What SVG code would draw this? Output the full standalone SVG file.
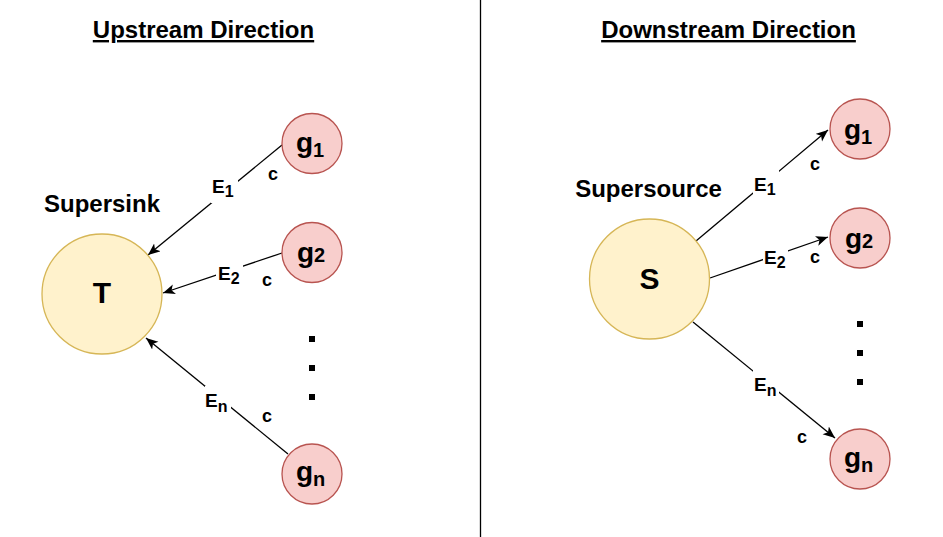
<svg xmlns="http://www.w3.org/2000/svg" width="943" height="537" viewBox="0 0 943 537">
<style>
text{font-family:"Liberation Sans",Arial,sans-serif;font-weight:bold;fill:#000}
.title{font-size:24px;text-decoration:underline}
.cap{font-size:24px}
.big{font-size:30px}
.g{font-size:28px}
.e{font-size:19px}
.c{font-size:18px}
.sub{font-size:16px}
.gsub{font-size:20px}
.y{fill:#fff2cc;stroke:#d6b656;stroke-width:1.3}
.p{fill:#f8cecc;stroke:#b85450;stroke-width:1.3}
.edge{stroke:#000;stroke-width:1.3;fill:none;marker-end:url(#arr)}
.bg{fill:#fff}
.dot{fill:#000}
</style>
<defs>
<marker id="arr" markerUnits="userSpaceOnUse" markerWidth="14" markerHeight="12" refX="12" refY="5" orient="auto">
<path d="M0,0 L12,5 L0,10 L3,5 z" fill="#000"/>
</marker>
</defs>
<rect width="943" height="537" fill="#fff"/>
<line x1="480.5" y1="0" x2="480.5" y2="537" stroke="#000" stroke-width="1.3"/>
<g id="titles">
<text class="title" x="203.5" y="38" text-anchor="middle">Upstream Direction</text>
<text class="title" x="728.5" y="38" text-anchor="middle">Downstream Direction</text>
<text class="cap" x="102" y="212" text-anchor="middle">Supersink</text>
<text class="cap" x="648.5" y="197" text-anchor="middle">Supersource</text>
</g>
<g id="connectors">
<line class="edge" x1="282" y1="145" x2="148" y2="255"/>
<line class="edge" x1="282" y1="253" x2="163" y2="293"/>
<line class="edge" x1="288" y1="454" x2="146" y2="338"/>
<line class="edge" x1="696" y1="241" x2="828" y2="130"/>
<line class="edge" x1="710" y1="278" x2="828" y2="237"/>
<line class="edge" x1="693" y1="322" x2="835" y2="438"/>
<rect class="bg" x="211" y="177" width="27" height="26"/>
<rect class="bg" x="216" y="264" width="27" height="23"/>
<rect class="bg" x="205" y="386" width="26" height="26"/>
<rect class="bg" x="753" y="170" width="26" height="27"/>
<rect class="bg" x="763" y="250" width="25" height="20"/>
<rect class="bg" x="753" y="370" width="26" height="27"/>
<text class="e" x="212" y="193">E<tspan class="sub" dy="4">1</tspan></text>
<text class="c" x="268" y="180">c</text>
<text class="e" x="218" y="280">E<tspan class="sub" dy="4">2</tspan></text>
<text class="c" x="262" y="286">c</text>
<text class="e" x="205" y="407">E<tspan class="sub" dy="5">n</tspan></text>
<text class="c" x="262" y="422">c</text>
<text class="e" x="754" y="191">E<tspan class="sub" dy="4">1</tspan></text>
<text class="c" x="810" y="170">c</text>
<text class="e" x="764" y="264">E<tspan class="sub" dy="4">2</tspan></text>
<text class="c" x="810" y="263">c</text>
<text class="e" x="754" y="391">E<tspan class="sub" dy="5">n</tspan></text>
<text class="c" x="797" y="443">c</text>
</g>
<g id="T">
<circle class="y" cx="102" cy="294" r="60"/>
<text class="big" x="102" y="303" text-anchor="middle">T</text>
</g>
<g id="S">
<circle class="y" cx="649.5" cy="279" r="60"/>
<text class="big" x="649.5" y="289" text-anchor="middle">S</text>
</g>
<g id="g1-left">
<circle class="p" cx="312" cy="143.5" r="30"/>
<text class="g" x="296" y="152">g<tspan class="gsub" dy="5">1</tspan></text>
</g>
<g id="g2-left">
<circle class="p" cx="312" cy="252.5" r="30"/>
<text class="g" x="297" y="262">g<tspan class="gsub" font-size="15">2</tspan></text>
</g>
<g id="gn-left">
<circle class="p" cx="312" cy="474" r="30"/>
<text class="g" x="296" y="481">g<tspan class="gsub" dy="5">n</tspan></text>
</g>
<g id="g1-right">
<circle class="p" cx="860" cy="129" r="30"/>
<text class="g" x="844" y="139">g<tspan class="gsub" dy="5">1</tspan></text>
</g>
<g id="g2-right">
<circle class="p" cx="860" cy="238" r="30"/>
<text class="g" x="845" y="248">g<tspan class="gsub" font-size="15">2</tspan></text>
</g>
<g id="gn-right">
<circle class="p" cx="860" cy="459" r="30"/>
<text class="g" x="844" y="467">g<tspan class="gsub" dy="5">n</tspan></text>
</g>
<g id="dots">
<rect class="dot" x="309" y="336" width="6" height="6"/>
<rect class="dot" x="309" y="365" width="6" height="6"/>
<rect class="dot" x="309" y="394" width="6" height="6"/>
<rect class="dot" x="857" y="321" width="6" height="6"/>
<rect class="dot" x="857" y="350" width="6" height="6"/>
<rect class="dot" x="857" y="379" width="6" height="6"/>
</g>
</svg>
